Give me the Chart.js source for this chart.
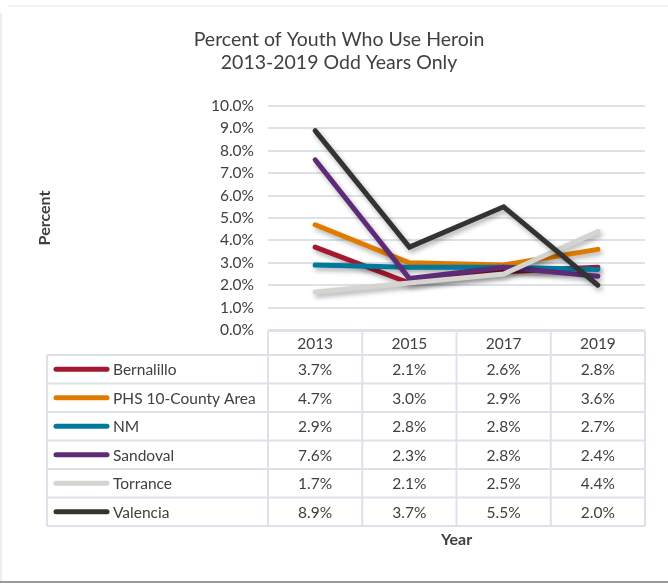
<!DOCTYPE html>
<html lang="en">
<head>
    <meta charset="UTF-8">
    <title>Percent of Youth Who Use Heroin</title>
    <script src="https://cdn.jsdelivr.net/npm/chart.js"></script>
    <style>
        body {
            margin: 0;
            background: #fff;
        }
        #wrap {
            width: 668px;
            height: 584px;
        }
    </style>
</head>
<body>
    <div id="wrap"><canvas id="heroinChart" width="668" height="584"></canvas></div>

    <script>
        // 조사 연도 (홀수 해만)
        const years = ['2013', '2015', '2017', '2019'];

        const seriesNames = ['Bernalillo', 'PHS 10-County Area', 'NM', 'Sandoval', 'Torrance', 'Valencia'];
        const bernalillo = [3.7, 2.1, 2.6, 2.8];
        const phsArea = [4.7, 3.0, 2.9, 3.6];
        const nm = [2.9, 2.8, 2.8, 2.7];
        const sandoval = [7.6, 2.3, 2.8, 2.4];
        const torrance = [1.7, 2.1, 2.5, 4.4];
        const valencia = [8.9, 3.7, 5.5, 2.0];

        const seriesColors = ['#a3192f', '#e07b00', '#00799a', '#5e2b78', '#d4d4d0', '#333333'];
        const seriesValues = [bernalillo, phsArea, nm, sandoval, torrance, valencia];

        const textColor = '#404040';
        const lineColor = '#dde2ea';
        const fontFamily = 'Lato, "Open Sans", sans-serif';

        // 선 그림자
        const shadowPlugin = {
            id: 'lineShadow',
            beforeDatasetsDraw(chart) {
                const ctx = chart.ctx;
                ctx.save();
                ctx.shadowColor = 'rgba(0,0,0,0.32)';
                ctx.shadowBlur = 5;
                ctx.shadowOffsetX = 2;
                ctx.shadowOffsetY = 3;
            },
            afterDatasetsDraw(chart) {
                chart.ctx.restore();
            }
        };

        // 틀 + 데이터 표 + 'Year'
        const tablePlugin = {
            id: 'dataTable',
            beforeDraw(chart) {
                const ctx = chart.ctx;
                ctx.save();
                ctx.fillStyle = '#f3f3f3';
                ctx.fillRect(8, 5, 660, 2);
                ctx.fillStyle = '#eeeeee';
                ctx.fillRect(0, 13, 2, 568);
                ctx.fillStyle = '#9a9a9a';
                ctx.fillRect(0, 581, 668, 2);
                ctx.restore();
            },
            afterDraw(chart) {
                const ctx = chart.ctx;
                const x = chart.scales.x;
                const area = chart.chartArea;
                const band = (area.right - area.left) / years.length;
                const headTop = area.bottom + 1;
                const headH = 24;
                const rowH = 28.5;
                const legendLeft = 47;
                const bodyTop = headTop + headH;
                const bodyBottom = bodyTop + rowH * seriesNames.length;

                ctx.save();
                ctx.strokeStyle = lineColor;
                ctx.lineWidth = 2;

                // 가로선
                ctx.beginPath();
                ctx.moveTo(area.left, headTop);
                ctx.lineTo(area.right, headTop);
                for (let r = 0; r <= seriesNames.length; r++) {
                    const y = bodyTop + r * rowH;
                    ctx.moveTo(legendLeft, y);
                    ctx.lineTo(area.right, y);
                }
                // 세로선
                ctx.moveTo(legendLeft, bodyTop);
                ctx.lineTo(legendLeft, bodyBottom);
                for (let c = 0; c <= years.length; c++) {
                    const xx = area.left + c * band;
                    ctx.moveTo(xx, headTop);
                    ctx.lineTo(xx, bodyBottom);
                }
                ctx.stroke();

                ctx.fillStyle = textColor;
                ctx.font = '15.5px ' + fontFamily;
                ctx.textBaseline = 'middle';
                ctx.textAlign = 'center';
                years.forEach((yr, i) => {
                    ctx.fillText(yr, x.getPixelForValue(i), headTop + headH / 2 + 1);
                });

                seriesNames.forEach((name, r) => {
                    const cy = bodyTop + r * rowH + rowH / 2;
                    ctx.textAlign = 'center';
                    seriesValues[r].forEach((v, i) => {
                        ctx.fillText(v.toFixed(1) + '%', x.getPixelForValue(i), cy + 1);
                    });
                    // 범례 선
                    ctx.save();
                    ctx.strokeStyle = seriesColors[r];
                    ctx.lineWidth = 5;
                    ctx.lineCap = 'round';
                    ctx.beginPath();
                    ctx.moveTo(56, cy);
                    ctx.lineTo(107, cy);
                    ctx.stroke();
                    ctx.restore();
                    ctx.textAlign = 'left';
                    ctx.fillText(name, 113, cy + 1);
                });

                ctx.font = 'bold 16px ' + fontFamily;
                ctx.textAlign = 'center';
                ctx.fillText('Year', (area.left + area.right) / 2, bodyBottom + 14);
                ctx.restore();
            }
        };

        const datasets = seriesNames.map((name, i) => ({
            label: name,
            data: seriesValues[i],
            borderColor: seriesColors[i],
            backgroundColor: seriesColors[i],
            borderWidth: 5,
            borderCapStyle: 'round',
            borderJoinStyle: 'miter',
            pointRadius: 0,
            fill: false,
            tension: 0,
            order: seriesNames.length - i
        }));

        const ctx = document.getElementById('heroinChart').getContext('2d');
        new Chart(ctx, {
            type: 'line',
            data: { labels: years, datasets: datasets },
            options: {
                responsive: false,
                animation: false,
                layout: {
                    padding: { left: 33, right: 23, top: 0, bottom: 254 }
                },
                plugins: {
                    legend: { display: false },
                    tooltip: { enabled: false },
                    title: {
                        display: true,
                        text: ['Percent of Youth Who Use Heroin', '2013-2019 Odd Years Only'],
                        color: textColor,
                        font: { family: fontFamily, size: 19.5, weight: 'normal', lineHeight: 1.18 },
                        padding: { top: 28, bottom: 32 }
                    }
                },
                scales: {
                    x: {
                        display: false,
                        offset: true
                    },
                    y: {
                        min: 0,
                        max: 10,
                        afterFit(scale) { scale.width = 235; },
                        ticks: {
                            stepSize: 1,
                            padding: 14,
                            color: textColor,
                            font: { family: fontFamily, size: 15.5 },
                            callback: v => v.toFixed(1) + '%'
                        },
                        grid: {
                            color: lineColor,
                            lineWidth: 2,
                            drawTicks: false
                        },
                        border: { display: false },
                        title: {
                            display: true,
                            text: 'Percent',
                            color: textColor,
                            padding: { top: 2, bottom: 4 },
                            font: { family: fontFamily, size: 16, weight: 'bold' }
                        }
                    }
                }
            },
            plugins: [shadowPlugin, tablePlugin]
        });
    </script>
</body>
</html>
